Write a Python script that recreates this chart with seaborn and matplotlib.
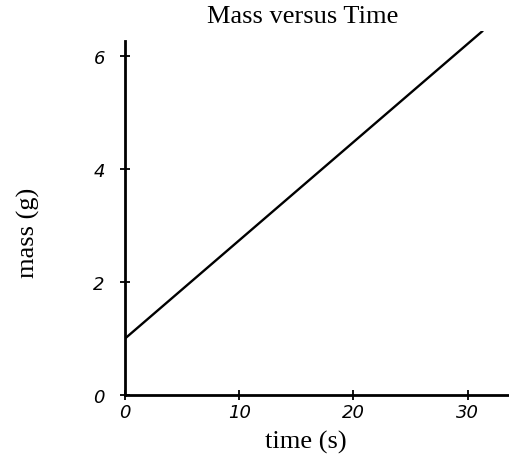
import matplotlib
matplotlib.use("Agg")
import matplotlib.pyplot as plt
import seaborn as sns
import pandas as pd

# Mass of the sample over time (straight line from its start and end points)
time_s = [0.0, 31.3]
mass_g = [1.0, 6.45]

x_ticks = [0, 10, 20, 30]
x_tick_labels = ["0", "10", "20", "30"]
y_ticks = [0, 2, 4, 6]
y_tick_labels = ["0", "2", "4", "6"]

df = pd.DataFrame({"time": time_s, "mass": mass_g})

sns.set_style("ticks")
plt.rcParams["font.family"] = ["DejaVu Sans"]

W, H = 510, 460
fig = plt.figure(figsize=(W / 100, H / 100), dpi=100)
# axes from x=125..510 px, y=396..32 px (top of the plotted line)
ax = fig.add_axes([125 / W, 64 / H, 385 / W, 364 / H])

sns.lineplot(data=df, x="time", y="mass", ax=ax, color="black", linewidth=1.7)

ax.set_xlim(0, 33.7)
ax.set_ylim(0, 6.45)
ax.set_xticks(x_ticks)
ax.set_xticklabels(x_tick_labels, fontstyle="italic")
ax.set_yticks(y_ticks)
ax.set_yticklabels(y_tick_labels, fontstyle="italic")
ax.tick_params(axis="both", direction="inout", length=7, width=1.3,
               labelsize=13, colors="black")
ax.tick_params(axis="y", pad=11)
ax.tick_params(axis="x", pad=2)

sns.despine(ax=ax)
for side in ("left", "bottom"):
    ax.spines[side].set_linewidth(2.0)
    ax.spines[side].set_color("black")
ax.spines["left"].set_bounds(0, 6.27)

serif = dict(family="Liberation Serif", color="black", fontsize=19)
fig.text(303 / W, 1 - 17 / H, "Mass versus Time", ha="center", va="center", **serif)
ax.set_xlabel("")
ax.set_ylabel("")
fig.text(306 / W, 1 - 442 / H, "time (s)", ha="center", va="center", **serif)
fig.text(28 / W, 1 - 233 / H, "mass (g)", ha="center", va="center",
         rotation=90, **serif)
ax.grid(False)

fig.savefig("out.png", dpi=100)
